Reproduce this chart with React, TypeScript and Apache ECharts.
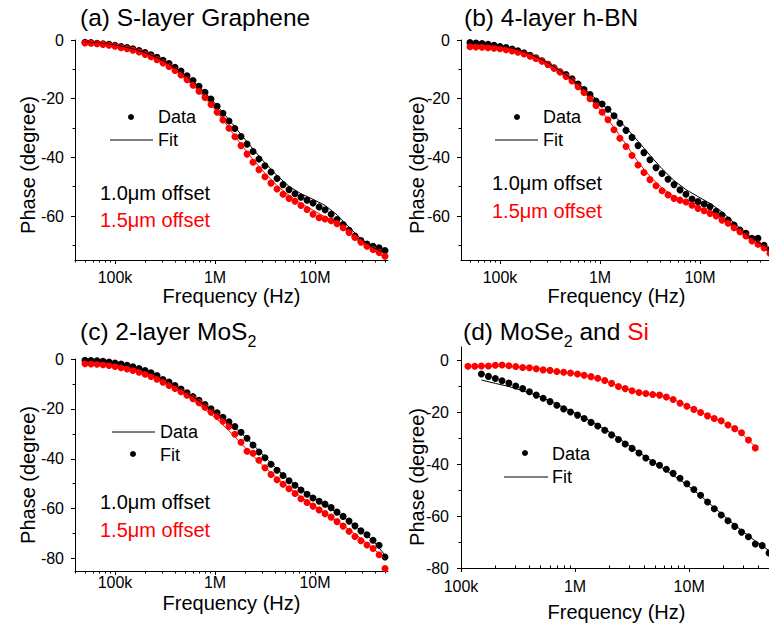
import React, { useEffect, useRef } from 'react';
import * as echarts from 'echarts';

// Frequency sweep (Hz) used for the measured points
const sweepHz = [
  50100, 57500, 66100, 75900, 87100, 100000, 115000, 132000, 151000, 174000,
  200000, 229000, 263000, 302000, 347000, 398000, 457000, 525000, 603000, 692000,
  794000, 912000, 1050000, 1200000, 1380000, 1580000, 1820000, 2090000, 2400000, 2750000,
  3160000, 3630000, 4170000, 4790000, 5500000, 6310000, 7240000, 8320000, 9550000, 11000000,
  12600000, 14500000, 16600000, 19100000, 21900000, 25100000, 28800000, 33100000, 38000000, 43700000,
  50100000,
];
// Fit curves are evaluated on every second sweep frequency
const fitHz = sweepHz.filter((_, i) => i % 2 === 0);
const moSe2Hz = sweepHz.slice(8);
const siHz = sweepHz.slice(6, 49);
const moSe2FitHz = moSe2Hz.filter((_, i) => i % 2 === 0);
const siFitHz = siHz.filter((_, i) => i % 2 === 0);

// (a) S-layer graphene, phase in degrees
const grapheneNear = [
  -0.8, -0.9, -1.1, -1.3, -1.5, -1.8, -2.2, -2.6, -3.0, -3.6,
  -4.3, -5.0, -5.9, -6.9, -8.0, -9.3, -10.6, -12.2, -13.8, -15.8,
  -17.8, -20.1, -22.6, -25.0, -27.6, -30.2, -32.9, -35.5, -38.0, -40.6,
  -42.9, -45.0, -47.2, -49.3, -51.0, -52.4, -53.6, -54.6, -55.6, -56.9,
  -57.9, -59.4, -61.2, -62.9, -64.9, -66.8, -68.4, -69.6, -70.3, -70.8,
  -71.8,
];
const grapheneFar = [
  -1.0, -1.1, -1.3, -1.5, -1.8, -2.1, -2.6, -3.0, -3.5, -4.1,
  -4.9, -5.7, -6.7, -7.8, -9.0, -10.4, -11.9, -13.5, -15.4, -17.5,
  -19.6, -22.0, -24.6, -27.3, -30.1, -33.0, -36.0, -38.9, -41.7, -44.2,
  -46.6, -48.8, -50.8, -52.6, -54.0, -55.0, -56.4, -57.8, -59.4, -60.6,
  -61.0, -61.6, -62.6, -64.0, -65.6, -67.3, -68.9, -70.3, -71.4, -72.4,
  -73.7,
];
const grapheneNearFit = [
  -0.7, -1.0, -1.4, -2.1, -3.0, -4.3, -6.0, -8.1, -10.8, -14.0, -17.9, -22.4, -27.2,
  -32.2, -37.2, -41.9, -46.2, -49.9, -52.4, -54.3, -56.4, -59.6, -63.8, -67.8, -70.7, -72.6,
];
const grapheneFarFit = [
  -0.9, -1.2, -1.7, -2.5, -3.5, -4.9, -6.7, -9.0, -12.0, -15.5, -19.7, -24.6, -30.0,
  -35.6, -40.8, -45.4, -49.6, -53.0, -55.7, -58.0, -60.3, -62.6, -65.4, -68.6, -71.6, -74.2,
];

// (b) 4-layer h-BN
const hbnNear = [
  -0.9, -1.0, -1.2, -1.5, -1.8, -2.2, -2.6, -3.1, -3.7, -4.4,
  -5.2, -6.1, -7.1, -8.3, -9.5, -10.8, -11.8, -13.2, -15.0, -16.9,
  -18.6, -20.8, -21.8, -23.6, -25.8, -28.4, -30.8, -33.2, -36.0, -38.4,
  -40.8, -43.5, -45.5, -47.5, -49.3, -51.1, -52.6, -54.2, -55.1, -55.9,
  -56.8, -58.4, -59.7, -61.4, -63.1, -64.8, -65.9, -67.6, -67.6, -70.0,
  -71.5,
];
const hbnFar = [
  -2.3, -2.4, -2.5, -2.6, -2.8, -3.0, -3.3, -3.7, -4.2, -4.8,
  -5.5, -6.3, -7.2, -8.3, -9.6, -10.9, -12.4, -14.0, -15.9, -17.9,
  -20.0, -22.3, -24.6, -27.2, -30.6, -33.5, -36.3, -39.4, -42.6, -45.2,
  -47.6, -49.7, -51.4, -52.8, -54.0, -54.6, -55.2, -56.3, -57.4, -58.2,
  -59.1, -60.0, -61.4, -62.5, -64.0, -65.4, -66.8, -68.5, -69.6, -70.9,
  -72.7,
];
const hbnNearFit = [
  -0.8, -1.1, -1.6, -2.3, -3.3, -4.7, -6.6, -9.0, -11.8, -14.9, -18.3, -21.9, -25.7,
  -29.9, -34.5, -39.3, -43.9, -47.9, -51.0, -53.4, -55.7, -58.6, -62.3, -66.0, -69.0, -71.0,
];
const hbnFarFit = [
  -2.2, -2.4, -2.8, -3.4, -4.3, -5.6, -7.4, -9.7, -12.5, -15.9, -20.0, -24.5, -29.8,
  -35.6, -41.6, -46.5, -50.5, -53.3, -55.2, -57.0, -59.0, -61.3, -64.0, -67.0, -69.8, -72.4,
];

// (c) 2-layer MoS2
const mos2Near = [
  -0.5, -0.6, -0.7, -0.9, -1.2, -1.6, -2.0, -2.5, -3.1, -3.8,
  -4.6, -5.5, -6.6, -8.2, -9.2, -10.6, -12.0, -13.5, -15.1, -16.6,
  -18.3, -20.0, -21.6, -23.4, -25.2, -27.1, -29.4, -31.8, -34.5, -37.3,
  -39.6, -42.2, -44.6, -46.7, -48.8, -50.6, -52.5, -54.2, -55.7, -57.0,
  -58.2, -59.6, -61.4, -63.1, -65.0, -66.9, -68.9, -70.5, -72.7, -74.7,
  -79.4,
];
const mos2Far = [
  -1.9, -2.0, -2.1, -2.3, -2.6, -3.0, -3.5, -4.0, -4.6, -5.3,
  -6.1, -7.0, -8.1, -9.3, -10.6, -11.8, -13.1, -14.5, -15.9, -17.5,
  -19.3, -21.3, -23.0, -24.9, -27.0, -30.2, -33.4, -37.0, -37.8, -40.6,
  -43.6, -46.3, -48.4, -50.2, -52.0, -53.9, -56.0, -57.5, -59.0, -60.5,
  -62.0, -63.4, -65.2, -67.0, -69.1, -71.2, -72.9, -74.6, -76.0, -78.5,
  -84.0,
];
const mos2NearFit = [
  -0.5, -0.7, -1.2, -2.0, -3.1, -4.6, -6.6, -9.1, -12.0, -15.1, -18.4, -21.9, -25.5,
  -29.6, -34.3, -39.3, -44.2, -48.6, -52.3, -55.5, -58.5, -61.6, -65.0, -68.8, -72.8, -78.6,
];
const mos2FarFit = [
  -1.8, -2.0, -2.5, -3.4, -4.6, -6.1, -8.1, -10.6, -13.4, -16.6, -20.2, -24.2, -28.8,
  -33.8, -38.9, -43.5, -47.8, -51.7, -55.3, -58.7, -61.9, -65.0, -68.4, -72.0, -76.0, -80.0,
];

// (d) MoSe2 (black) and bare Si (red)
const mose2Phase = [
  -5.4, -6.3, -7.1, -8.0, -8.9, -10.0, -11.0, -12.2, -13.5, -14.7,
  -16.0, -17.4, -18.8, -20.0, -21.2, -22.5, -24.0, -25.4, -27.0, -28.8,
  -30.6, -32.3, -34.0, -35.8, -37.7, -39.4, -40.5, -42.0, -43.6, -45.5,
  -47.6, -49.8, -52.0, -54.6, -57.2, -59.6, -61.8, -64.0, -66.2, -68.0,
  -70.8, -71.4, -74.2,
];
const siPhase = [
  -2.4, -2.4, -2.3, -2.3, -2.0, -1.9, -2.2, -2.5, -2.9, -3.0,
  -3.4, -3.8, -4.0, -4.4, -4.7, -5.0, -5.4, -5.9, -6.4, -7.0,
  -7.9, -9.0, -10.2, -11.0, -11.8, -12.5, -12.9, -13.3, -13.5, -14.2,
  -15.2, -16.6, -17.8, -19.0, -20.2, -21.5, -22.5, -23.4, -25.0, -26.4,
  -28.0, -30.8, -33.8,
];
const mose2Fit = [
  -7.7, -9.0, -10.2, -11.8, -13.6, -15.8, -18.2, -20.9, -23.6, -26.6, -30.0,
  -33.7, -37.3, -40.8, -44.3, -48.0, -52.2, -56.8, -61.3, -65.6, -69.6, -73.3,
];
const siFit = [
  -2.3, -2.3, -2.3, -2.5, -2.8, -3.3, -4.0, -4.7, -5.5, -6.5, -8.0,
  -10.0, -11.8, -13.0, -13.8, -15.1, -17.6, -20.1, -22.4, -24.9, -28.2, -33.4,
];

// Axis ticks
const xTickHz = [1e5, 1e6, 1e7];
const xTickText = ['100k', '1M', '10M'];
const xMinorHz: number[] = [];
[1e4, 1e5, 1e6, 1e7].forEach((decade) => {
  for (let m = 2; m <= 9; m++) xMinorHz.push(m * decade);
});
const yTicksShort = [0, -20, -40, -60];
const yTicksLong = [0, -20, -40, -60, -80];
const yMinorTicks = [-10, -30, -50, -70];

const FONT = '"Liberation Sans", Arial, Helvetica, sans-serif';
const INK = '#000000';
const RED = '#ff0000';

type Panel = {
  left: number; top: number; width: number; height: number;
  xMin: number; xMax: number; yMin: number; yMax: number;
  yTicks: number[]; xLabelMargin: number; yLabelMargin: number; minorXInside: boolean;
  points: { hz: number[]; phase: number[]; color: string }[];
  fits: { hz: number[]; phase: number[]; color: string }[];
};

const panels: Panel[] = [
  {
    left: 75, top: 40, width: 313, height: 220, xMin: 4.6, xMax: 7.73, yMin: -75, yMax: 0,
    yTicks: yTicksShort, xLabelMargin: 9, yLabelMargin: 11, minorXInside: false,
    points: [
      { hz: sweepHz, phase: grapheneNear, color: INK },
      { hz: sweepHz, phase: grapheneFar, color: RED },
    ],
    fits: [
      { hz: fitHz, phase: grapheneNearFit, color: INK },
      { hz: fitHz, phase: grapheneFarFit, color: RED },
    ],
  },
  {
    left: 461, top: 40, width: 313, height: 220, xMin: 4.61, xMax: 7.74, yMin: -75, yMax: 0,
    yTicks: yTicksShort, xLabelMargin: 9, yLabelMargin: 11, minorXInside: false,
    points: [
      { hz: sweepHz, phase: hbnNear, color: INK },
      { hz: sweepHz, phase: hbnFar, color: RED },
    ],
    fits: [
      { hz: fitHz, phase: hbnNearFit, color: INK },
      { hz: fitHz, phase: hbnFarFit, color: RED },
    ],
  },
  {
    left: 75, top: 359, width: 313, height: 212, xMin: 4.6, xMax: 7.73, yMin: -85, yMax: 0,
    yTicks: yTicksLong, xLabelMargin: 3, yLabelMargin: 11, minorXInside: false,
    points: [
      { hz: sweepHz, phase: mos2Near, color: INK },
      { hz: sweepHz, phase: mos2Far, color: RED },
    ],
    fits: [
      { hz: fitHz, phase: mos2NearFit, color: INK },
      { hz: fitHz, phase: mos2FarFit, color: RED },
    ],
  },
  {
    left: 461, top: 347, width: 308, height: 221, xMin: 5, xMax: 7.7, yMin: -80, yMax: 5,
    yTicks: yTicksLong, xLabelMargin: 10, yLabelMargin: 12, minorXInside: true,
    points: [
      { hz: moSe2Hz, phase: mose2Phase, color: INK },
      { hz: siHz, phase: siPhase, color: RED },
    ],
    fits: [
      { hz: moSe2FitHz, phase: mose2Fit, color: INK },
      { hz: siFitHz, phase: siFit, color: RED },
    ],
  },
];

const toXY = (hz: number[], phase: number[]) => hz.map((f, i) => [Math.log10(f), phase[i]]);

const tickText = (v: number) => {
  const i = xTickHz.findIndex((f) => Math.abs(Math.log10(f) - v) < 1e-6);
  return i >= 0 ? xTickText[i] : '';
};

const lineStyle = { color: INK, width: 1 };

function text(x: number, y: number, t: string, size: number, color = INK, align = 'left', rotation = 0) {
  return {
    type: 'text', x, y, rotation, silent: true,
    style: {
      text: t, fill: color, fontSize: size, fontFamily: FONT,
      align, textAlign: align, verticalAlign: 'middle', textVerticalAlign: 'middle',
    },
  };
}

function titleRich(x: number, y: number, t: string) {
  return {
    type: 'text', x, y, silent: true,
    style: {
      text: t,
      align: 'left', textAlign: 'left', verticalAlign: 'middle', textVerticalAlign: 'middle',
      rich: {
        t: { fontSize: 24.5, fontFamily: FONT, fill: INK },
        s: { fontSize: 16, fontFamily: FONT, fill: INK, padding: [21, 0, 0, 0] },
        r: { fontSize: 24.5, fontFamily: FONT, fill: RED },
      },
    },
  };
}

function dotKey(cx: number, cy: number) {
  return { type: 'circle', silent: true, shape: { cx, cy, r: 3 }, style: { fill: INK } };
}

function lineKey(x1: number, x2: number, y: number) {
  return { type: 'line', silent: true, shape: { x1, y1: y, x2, y2: y }, style: { stroke: INK, lineWidth: 1 } };
}

function buildOption() {
  const grid: any[] = [];
  const xAxis: any[] = [];
  const yAxis: any[] = [];
  const series: any[] = [];

  panels.forEach((p, k) => {
    grid.push({ left: p.left, top: p.top, width: p.width, height: p.height, containLabel: false, outerBoundsMode: 'none' });
    const majorX = xTickHz.map((f) => Math.log10(f));
    const minorX = xMinorHz.map((f) => Math.log10(f)).filter((v) => v > p.xMin && v < p.xMax);
    xAxis.push(
      {
        type: 'value', gridIndex: k, min: p.xMin, max: p.xMax, position: 'bottom',
        axisLine: { show: true, onZero: false, lineStyle },
        axisTick: { show: true, inside: false, length: 4, customValues: majorX, lineStyle },
        axisLabel: {
          show: true, customValues: majorX, formatter: tickText, color: INK,
          fontSize: 16, fontFamily: FONT, margin: p.xLabelMargin,
        },
        splitLine: { show: false },
      },
      {
        type: 'value', gridIndex: k, min: p.xMin, max: p.xMax, position: 'bottom',
        axisLine: { show: false, onZero: false },
        axisTick: { show: true, inside: p.minorXInside, length: 2.5, customValues: minorX, lineStyle },
        axisLabel: { show: false },
        splitLine: { show: false },
      },
    );
    yAxis.push(
      {
        type: 'value', gridIndex: k, min: p.yMin, max: p.yMax, position: 'left',
        axisLine: { show: true, onZero: false, lineStyle },
        axisTick: { show: true, inside: false, length: 4, customValues: p.yTicks, lineStyle },
        axisLabel: {
          show: true, customValues: p.yTicks, color: INK,
          fontSize: 16, fontFamily: FONT, margin: p.yLabelMargin,
        },
        splitLine: { show: false },
      },
      {
        type: 'value', gridIndex: k, min: p.yMin, max: p.yMax, position: 'left',
        axisLine: { show: false, onZero: false },
        axisTick: { show: true, inside: false, length: 2.5, customValues: yMinorTicks, lineStyle },
        axisLabel: { show: false },
        splitLine: { show: false },
      },
    );
    p.points.forEach((s) => {
      series.push({
        type: 'scatter', xAxisIndex: 2 * k, yAxisIndex: 2 * k, silent: true,
        data: toXY(s.hz, s.phase), symbol: 'circle', symbolSize: 7,
        itemStyle: { color: s.color, opacity: 1 }, z: 2,
      });
    });
    p.fits.forEach((s) => {
      series.push({
        type: 'line', xAxisIndex: 2 * k, yAxisIndex: 2 * k, silent: true,
        data: toXY(s.hz, s.phase), showSymbol: false, symbol: 'none',
        lineStyle: { color: s.color, width: 1 }, z: 3,
      });
    });
  });

  const graphic: any[] = [
    // panel titles
    titleRich(80, 17, '{t|(a) S-layer Graphene}'),
    titleRich(464, 17, '{t|(b) 4-layer h-BN}'),
    titleRich(80, 331, '{t|(c) 2-layer MoS}{s|2}'),
    titleRich(463, 331, '{t|(d) MoSe}{s|2}{t| and }{r|Si}'),
    // axis names
    text(231.5, 296, 'Frequency (Hz)', 20, INK, 'center'),
    text(616.5, 296, 'Frequency (Hz)', 20, INK, 'center'),
    text(231.5, 603, 'Frequency (Hz)', 20, INK, 'center'),
    text(616.5, 612, 'Frequency (Hz)', 20, INK, 'center'),
    text(28, 165, 'Phase (degree)', 20, INK, 'center', Math.PI / 2),
    text(417, 165, 'Phase (degree)', 20, INK, 'center', Math.PI / 2),
    text(28, 475, 'Phase (degree)', 20, INK, 'center', Math.PI / 2),
    text(417, 477, 'Phase (degree)', 20, INK, 'center', Math.PI / 2),
    // keys, panel (a)
    dotKey(131, 117), text(158, 117, 'Data', 18),
    lineKey(110, 153, 140), text(158, 140, 'Fit', 18),
    text(100, 193, '1.0\u03bcm offset', 20, INK),
    text(100, 220, '1.5\u03bcm offset', 20, RED),
    // keys, panel (b)
    dotKey(517, 117), text(543, 117, 'Data', 18),
    lineKey(495, 538, 140), text(543, 140, 'Fit', 18),
    text(492, 183, '1.0\u03bcm offset', 20, INK),
    text(492, 211, '1.5\u03bcm offset', 20, RED),
    // keys, panel (c)
    lineKey(112, 155, 432), text(160, 432, 'Data', 18),
    dotKey(133, 454), text(160, 455, 'Fit', 18),
    text(100, 502, '1.0\u03bcm offset', 20, INK),
    text(100, 530, '1.5\u03bcm offset', 20, RED),
    // keys, panel (d)
    dotKey(525, 453), text(552, 454, 'Data', 18),
    lineKey(504, 548, 477), text(552, 477, 'Fit', 18),
  ];

  return {
    animation: false,
    backgroundColor: '#ffffff',
    textStyle: { fontFamily: FONT },
    grid,
    xAxis,
    yAxis,
    series,
    graphic,
  };
}

export default function App() {
  const ref = useRef<HTMLDivElement>(null);
  useEffect(() => {
    if (!ref.current) return;
    const chart = echarts.init(ref.current, null, { renderer: 'svg' });
    chart.setOption(buildOption() as any);
    return () => chart.dispose();
  }, []);
  return (
    <div
      ref={ref}
      style={{ position: 'fixed', left: 0, top: 0, width: 769, height: 630, background: '#ffffff' }}
    />
  );
}
